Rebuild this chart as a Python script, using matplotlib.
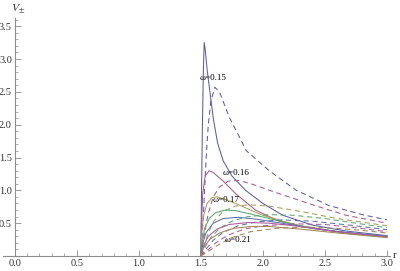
import matplotlib
matplotlib.use("Agg")
import matplotlib.pyplot as plt
from matplotlib.ticker import MultipleLocator, FixedLocator

# ---------------- data ----------------
omegas = ["0.15", "0.16", "0.17", "0.18", "0.19", "0.20", "0.21"]

# V+ (solid) curves
r_p15 = [1.50, 1.505, 1.512, 1.52, 1.527, 1.535, 1.55, 1.573, 1.60, 1.635, 1.68, 1.75, 1.86, 2.00, 2.16, 2.40, 2.67, 3.00]
v_p15 = [0.00, 0.90, 1.90, 2.80, 3.25, 3.15, 2.85, 2.50, 2.10, 1.72, 1.45, 1.22, 1.00, 0.80, 0.62, 0.47, 0.38, 0.31]
r_p16 = [1.50, 1.505, 1.515, 1.535, 1.567, 1.60, 1.675, 1.78, 1.94, 2.13, 2.40, 2.67, 3.00]
v_p16 = [0.00, 0.50, 0.95, 1.22, 1.30, 1.27, 1.15, 0.95, 0.70, 0.53, 0.42, 0.35, 0.29]
r_p17 = [1.50, 1.505, 1.52, 1.55, 1.59, 1.63, 1.70, 1.78, 1.90, 2.00, 2.27, 2.53, 2.80, 3.00]
v_p17 = [0.00, 0.30, 0.60, 0.80, 0.89, 0.90, 0.86, 0.80, 0.70, 0.62, 0.47, 0.39, 0.33, 0.30]
r_p18 = [1.50, 1.51, 1.53, 1.57, 1.62, 1.70, 1.78, 1.90, 2.05, 2.30, 2.60, 3.00]
v_p18 = [0.00, 0.20, 0.42, 0.58, 0.66, 0.70, 0.69, 0.64, 0.57, 0.46, 0.37, 0.30]
r_p19 = [1.50, 1.51, 1.54, 1.60, 1.68, 1.80, 1.95, 2.15, 2.40, 2.70, 3.00]
v_p19 = [0.00, 0.15, 0.35, 0.50, 0.57, 0.59, 0.56, 0.50, 0.42, 0.35, 0.30]
r_p20 = [1.50, 1.52, 1.56, 1.63, 1.73, 1.88, 2.05, 2.30, 2.60, 3.00]
v_p20 = [0.00, 0.15, 0.30, 0.41, 0.48, 0.51, 0.50, 0.45, 0.37, 0.29]
r_p21 = [1.50, 1.52, 1.57, 1.65, 1.76, 1.90, 2.05, 2.30, 2.60, 3.00]
v_p21 = [0.00, 0.12, 0.25, 0.35, 0.42, 0.45, 0.45, 0.41, 0.35, 0.28]

# V- (dashed) curves
r_m15 = [1.50, 1.52, 1.535, 1.546, 1.56, 1.58, 1.613, 1.65, 1.73, 1.868, 2.05, 2.27, 2.53, 2.80, 3.00]
v_m15 = [0.00, 0.60, 1.20, 1.60, 2.00, 2.35, 2.57, 2.50, 2.11, 1.60, 1.30, 1.00, 0.77, 0.63, 0.55]
r_m16 = [1.50, 1.53, 1.56, 1.60, 1.65, 1.72, 1.80, 1.89, 2.13, 2.40, 2.67, 3.00]
v_m16 = [0.00, 0.35, 0.65, 0.90, 1.05, 1.14, 1.15, 1.11, 0.95, 0.78, 0.62, 0.50]
r_m17 = [1.50, 1.55, 1.60, 1.68, 1.78, 1.90, 2.05, 2.30, 2.60, 3.00]
v_m17 = [0.00, 0.30, 0.52, 0.68, 0.76, 0.78, 0.76, 0.68, 0.57, 0.46]
r_m18 = [1.50, 1.53, 1.58, 1.65, 1.75, 1.88, 2.05, 2.25, 2.50, 2.75, 3.00]
v_m18 = [0.00, 0.12, 0.28, 0.42, 0.53, 0.60, 0.63, 0.62, 0.57, 0.50, 0.43]
r_m19 = [1.50, 1.54, 1.60, 1.68, 1.80, 1.95, 2.15, 2.40, 2.70, 3.00]
v_m19 = [0.00, 0.10, 0.24, 0.36, 0.46, 0.52, 0.55, 0.53, 0.47, 0.40]
r_m20 = [1.50, 1.55, 1.62, 1.72, 1.85, 2.00, 2.25, 2.50, 2.75, 3.00]
v_m20 = [0.00, 0.08, 0.20, 0.32, 0.41, 0.46, 0.49, 0.48, 0.43, 0.37]
r_m21 = [1.50, 1.56, 1.64, 1.75, 1.90, 2.10, 2.35, 2.60, 2.80, 3.00]
v_m21 = [0.00, 0.07, 0.17, 0.28, 0.37, 0.42, 0.44, 0.42, 0.39, 0.35]

plus_r = [r_p15, r_p16, r_p17, r_p18, r_p19, r_p20, r_p21]
plus_v = [v_p15, v_p16, v_p17, v_p18, v_p19, v_p20, v_p21]
minus_r = [r_m15, r_m16, r_m17, r_m18, r_m19, r_m20, r_m21]
minus_v = [v_m15, v_m16, v_m17, v_m18, v_m19, v_m20, v_m21]

# curve labels
label_text = ["ω=0.15", "ω=0.16", "ω=0.17", "ω=0.21"]
label_r = [1.60, 1.78, 1.705, 1.80]
label_v = [2.71, 1.26, 0.85, 0.24]

x_ticks = [0.0, 0.5, 1.0, 1.5, 2.0, 2.5, 3.0]
y_ticks = [0.5, 1.0, 1.5, 2.0, 2.5, 3.0, 3.5]

# ---------------- styling ----------------
base_colors = [(0.247, 0.24, 0.6), (0.6, 0.24, 0.443), (0.6, 0.547, 0.24),
               (0.24, 0.6, 0.337), (0.24, 0.353, 0.6), (0.6, 0.24, 0.564),
               (0.6, 0.427, 0.24)]
colors = [tuple(0.85 * c + 0.15 for c in col) for col in base_colors]
serif = ["Liberation Serif", "DejaVu Serif"]

fig = plt.figure(figsize=(4.0, 2.71), dpi=100)
ax = fig.add_axes([3 / 400, 15 / 271, 387 / 400, 237.7 / 271])
ax.set_xlim(-0.094, 3.024)
ax.set_ylim(0, 3.62)

for i in range(len(omegas)):
    ax.plot(plus_r[i], plus_v[i], color=colors[i], lw=0.75, solid_joinstyle="round")
    ax.plot(minus_r[i], minus_v[i], color=colors[i], lw=0.75, dashes=(5, 3.5))

for t, x, y in zip(label_text, label_r, label_v):
    ax.text(x, y, t, fontsize=6.5, family=serif, ha="center", va="center",
            color="black")

for s in ["top", "right"]:
    ax.spines[s].set_visible(False)
ax.spines["left"].set_position(("data", 0))
axis_gray = (0.55, 0.55, 0.55)
for s in ["left", "bottom"]:
    ax.spines[s].set_color(axis_gray)
    ax.spines[s].set_linewidth(0.8)

ax.xaxis.set_major_locator(FixedLocator(x_ticks))
ax.yaxis.set_major_locator(FixedLocator(y_ticks))
ax.xaxis.set_minor_locator(MultipleLocator(0.1))
ax.yaxis.set_minor_locator(MultipleLocator(0.1))
ax.set_xticklabels(["%.1f" % v for v in x_ticks])
ax.set_yticklabels(["%.1f" % v for v in y_ticks])
ax.tick_params(which="major", direction="in", length=4, width=0.6,
               color=axis_gray, labelsize=7.5, labelcolor=(0.2, 0.2, 0.2), pad=2)
ax.tick_params(which="minor", direction="in", length=2.2, width=0.5,
               color=axis_gray)
for lab in ax.get_xticklabels() + ax.get_yticklabels():
    lab.set_family(serif)

fig.text(395 / 400, 1 - 255 / 271, "r", fontsize=8, family=serif,
         ha="center", va="center", color=(0.2, 0.2, 0.2))
fig.text(18 / 400, 1 - 9 / 271, r"$V_{\pm}$", fontsize=8.5,
         ha="center", va="center", color=(0.2, 0.2, 0.2),
         math_fontfamily="stix")

fig.savefig("out.png", dpi=100)
